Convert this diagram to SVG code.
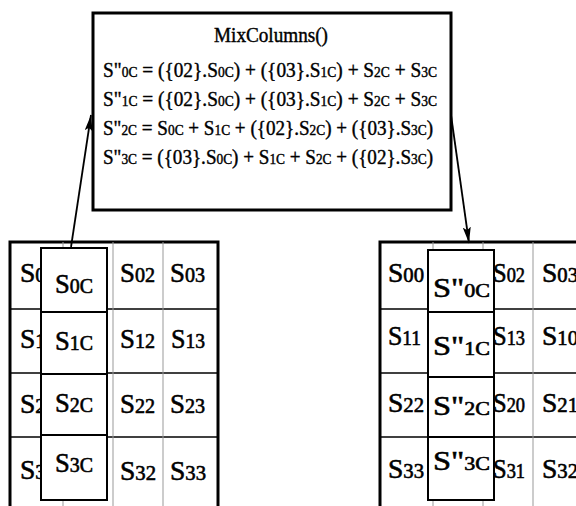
<svg xmlns="http://www.w3.org/2000/svg" width="576" height="506" viewBox="0 0 576 506">
<defs>
<marker id="ah" viewBox="0 0 16 8" refX="16" refY="4" markerWidth="16" markerHeight="8" markerUnits="userSpaceOnUse" orient="auto">
<path d="M0,0 L16,4 L0,8 L3,4 Z" fill="#000"/>
</marker>
<style>
text{font-family:"Liberation Serif","Times New Roman",serif;fill:#000;stroke:#000}
.eq{font-size:20px;stroke-width:0.4}
.es{font-size:14px}
.title{font-size:20px;stroke-width:0.4}
.cell{font-size:28px;stroke-width:0.6}
.sb{font-size:21px}
.sq{font-size:19px}
.outer{fill:#fff;stroke:#000;stroke-width:3}
.hl{stroke:#000;stroke-width:1.5}
.vl{stroke:#999;stroke-width:1}
.ov{fill:#fff;stroke:#000;stroke-width:2}
.conn{stroke:#000;stroke-width:1.8;fill:none}
</style>
</defs>
<rect width="576" height="506" fill="#fff"/>

<g id="mixcolumns-box">
<rect x="93" y="13" width="358" height="197" fill="#fff" stroke="#000" stroke-width="3"/>
<text class="title" x="271" y="42" text-anchor="middle" textLength="114" lengthAdjust="spacingAndGlyphs">MixColumns()</text>
<text class="eq" x="103" y="77" textLength="334" lengthAdjust="spacingAndGlyphs">S"<tspan class="es">0C</tspan> = ({02}.S<tspan class="es">0C</tspan>) + ({03}.S<tspan class="es">1C</tspan>) + S<tspan class="es">2C</tspan> + S<tspan class="es">3C</tspan></text>
<text class="eq" x="103" y="106" textLength="334" lengthAdjust="spacingAndGlyphs">S"<tspan class="es">1C</tspan> = ({02}.S<tspan class="es">0C</tspan>) + ({03}.S<tspan class="es">1C</tspan>) + S<tspan class="es">2C</tspan> + S<tspan class="es">3C</tspan></text>
<text class="eq" x="103" y="135" textLength="330" lengthAdjust="spacingAndGlyphs">S"<tspan class="es">2C</tspan> = S<tspan class="es">0C</tspan> + S<tspan class="es">1C</tspan> + ({02}.S<tspan class="es">2C</tspan>) + ({03}.S<tspan class="es">3C</tspan>)</text>
<text class="eq" x="103" y="164" textLength="330" lengthAdjust="spacingAndGlyphs">S"<tspan class="es">3C</tspan> = ({03}.S<tspan class="es">0C</tspan>) + S<tspan class="es">1C</tspan> + S<tspan class="es">2C</tspan> + ({02}.S<tspan class="es">3C</tspan>)</text>
</g>

<g id="state-before">
<rect class="outer" x="10" y="242" width="208" height="280"/>
<line class="hl" x1="10" y1="309" x2="218" y2="309"/>
<line class="hl" x1="10" y1="373" x2="218" y2="373"/>
<line class="hl" x1="10" y1="437" x2="218" y2="437"/>
<line class="vl" x1="63" y1="242" x2="63" y2="506"/>
<line class="vl" x1="113" y1="242" x2="113" y2="506"/>
<line class="vl" x1="163" y1="242" x2="163" y2="506"/>
<text class="cell" x="20" y="282" textLength="36" lengthAdjust="spacingAndGlyphs">S<tspan class="sb">00</tspan></text>
<text class="cell" x="120" y="282" textLength="35" lengthAdjust="spacingAndGlyphs">S<tspan class="sb">02</tspan></text>
<text class="cell" x="170" y="282" textLength="35" lengthAdjust="spacingAndGlyphs">S<tspan class="sb">03</tspan></text>
<text class="cell" x="20" y="348" textLength="36" lengthAdjust="spacingAndGlyphs">S<tspan class="sb">10</tspan></text>
<text class="cell" x="120" y="348" textLength="35" lengthAdjust="spacingAndGlyphs">S<tspan class="sb">12</tspan></text>
<text class="cell" x="171" y="348" textLength="34" lengthAdjust="spacingAndGlyphs">S<tspan class="sb">13</tspan></text>
<text class="cell" x="20" y="413" textLength="36" lengthAdjust="spacingAndGlyphs">S<tspan class="sb">20</tspan></text>
<text class="cell" x="120" y="413" textLength="35" lengthAdjust="spacingAndGlyphs">S<tspan class="sb">22</tspan></text>
<text class="cell" x="170" y="413" textLength="35" lengthAdjust="spacingAndGlyphs">S<tspan class="sb">23</tspan></text>
<text class="cell" x="20" y="479" textLength="36" lengthAdjust="spacingAndGlyphs">S<tspan class="sb">30</tspan></text>
<text class="cell" x="120" y="480" textLength="36" lengthAdjust="spacingAndGlyphs">S<tspan class="sb">32</tspan></text>
<text class="cell" x="170" y="480" textLength="36" lengthAdjust="spacingAndGlyphs">S<tspan class="sb">33</tspan></text>
</g>

<g id="column-before">
<rect class="ov" x="41" y="248" width="66" height="252"/>
<line class="ov" x1="41" y1="312" x2="107" y2="312"/>
<line class="ov" x1="41" y1="374" x2="107" y2="374"/>
<line class="ov" x1="41" y1="435" x2="107" y2="435"/>
<text class="cell" x="55" y="293" textLength="38" lengthAdjust="spacingAndGlyphs">S<tspan class="sb">0C</tspan></text>
<text class="cell" x="55" y="350" textLength="38" lengthAdjust="spacingAndGlyphs">S<tspan class="sb">1C</tspan></text>
<text class="cell" x="55" y="412" textLength="38" lengthAdjust="spacingAndGlyphs">S<tspan class="sb">2C</tspan></text>
<text class="cell" x="55" y="472" textLength="38" lengthAdjust="spacingAndGlyphs">S<tspan class="sb">3C</tspan></text>
</g>

<g id="state-after">
<rect class="outer" x="380" y="242" width="220" height="280"/>
<line class="hl" x1="380" y1="309" x2="576" y2="309"/>
<line class="hl" x1="380" y1="373" x2="576" y2="373"/>
<line class="hl" x1="380" y1="437" x2="576" y2="437"/>
<line class="vl" x1="433" y1="242" x2="433" y2="506"/>
<line class="vl" x1="483" y1="242" x2="483" y2="506"/>
<line class="vl" x1="533" y1="242" x2="533" y2="506"/>
<text class="cell" x="388" y="282" textLength="36" lengthAdjust="spacingAndGlyphs">S<tspan class="sb">00</tspan></text>
<text class="cell" x="493" y="282" textLength="32" lengthAdjust="spacingAndGlyphs">S<tspan class="sb">02</tspan></text>
<text class="cell" x="542" y="282" textLength="36" lengthAdjust="spacingAndGlyphs">S<tspan class="sb">03</tspan></text>
<text class="cell" x="388" y="345" textLength="33" lengthAdjust="spacingAndGlyphs">S<tspan class="sb">11</tspan></text>
<text class="cell" x="493" y="345" textLength="32" lengthAdjust="spacingAndGlyphs">S<tspan class="sb">13</tspan></text>
<text class="cell" x="542" y="345" textLength="36" lengthAdjust="spacingAndGlyphs">S<tspan class="sb">10</tspan></text>
<text class="cell" x="388" y="412" textLength="36" lengthAdjust="spacingAndGlyphs">S<tspan class="sb">22</tspan></text>
<text class="cell" x="493" y="412" textLength="32" lengthAdjust="spacingAndGlyphs">S<tspan class="sb">20</tspan></text>
<text class="cell" x="542" y="412" textLength="36" lengthAdjust="spacingAndGlyphs">S<tspan class="sb">21</tspan></text>
<text class="cell" x="388" y="478" textLength="36" lengthAdjust="spacingAndGlyphs">S<tspan class="sb">33</tspan></text>
<text class="cell" x="493" y="478" textLength="32" lengthAdjust="spacingAndGlyphs">S<tspan class="sb">31</tspan></text>
<text class="cell" x="542" y="478" textLength="36" lengthAdjust="spacingAndGlyphs">S<tspan class="sb">32</tspan></text>
</g>

<g id="column-after">
<rect class="ov" x="428" y="250" width="66" height="250"/>
<line class="ov" x1="428" y1="312" x2="494" y2="312"/>
<line class="ov" x1="428" y1="377" x2="494" y2="377"/>
<line class="ov" x1="428" y1="437" x2="494" y2="437"/>
<text class="cell" x="433" y="297" textLength="57" lengthAdjust="spacingAndGlyphs">S"<tspan class="sq">0C</tspan></text>
<text class="cell" x="433" y="355" textLength="57" lengthAdjust="spacingAndGlyphs">S"<tspan class="sq">1C</tspan></text>
<text class="cell" x="433" y="415" textLength="57" lengthAdjust="spacingAndGlyphs">S"<tspan class="sq">2C</tspan></text>
<text class="cell" x="433" y="470" textLength="57" lengthAdjust="spacingAndGlyphs">S"<tspan class="sq">3C</tspan></text>
</g>

<g id="connectors">
<line class="conn" x1="71" y1="247" x2="91" y2="115" marker-end="url(#ah)"/>
<line class="conn" x1="451" y1="115" x2="469" y2="243" marker-end="url(#ah)"/>
</g>
</svg>
